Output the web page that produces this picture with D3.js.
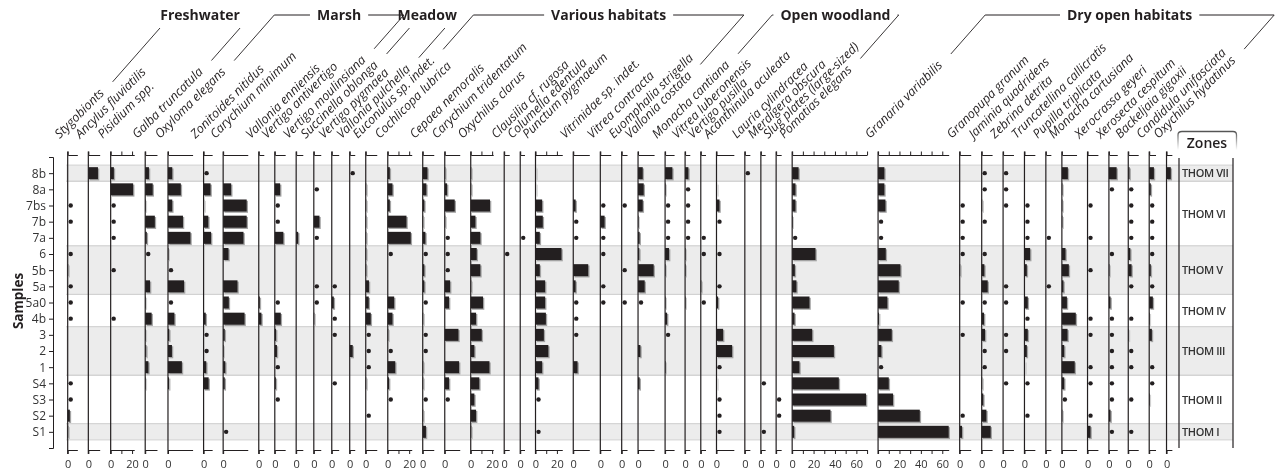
<!DOCTYPE html>
<html><head><meta charset="utf-8">
<script src="https://cdn.jsdelivr.net/npm/d3@7"></script>
<style>
body{margin:0;background:#fff}
svg{will-change:transform}
svg text{font-family:"Open Sans","DejaVu Sans",sans-serif;fill:#231f20}
</style>
</head><body><svg id="c" width="1278" height="473"></svg>
<script>
const P = -1; // presence only (dot)

const samples = ["8b","8a","7bs","7b","7a","6","5b","5a","5a0","4b","3","2","1","S4","S3","S2","S1"];

const taxa = ["Stygobionts","Ancylus fluviatilis","Pisidium spp.","Galba truncatula","Oxyloma elegans",
  "Zonitoides nitidus","Carychium minimum","Vallonia enniensis","Vertigo antivertigo","Vertigo moulinsiana",
  "Succinella oblonga","Vertigo pygmaea","Vallonia pulchella","Euconulus sp. indet.","Cochlicopa lubrica",
  "Cepaea nemoralis","Carychium tridentatum","Oxychilus clarus","Clausilia cf. rugosa","Columella edentula",
  "Punctum pygmaeum","Vitrinidae sp. indet.","Vitrea contracta","Euomphalia strigella","Vallonia costata",
  "Monacha cantiana","Vitrea luberonensis","Vertigo pusilla","Acanthinula aculeata","Lauria cylindracea",
  "Merdigera obscura","Slug plates (large-sized)","Pomatias elegans","Granaria variabilis","Granopupa granum",
  "Jaminia quadridens","Zebrina detrita","Truncatellina callicratis","Pupilla triplicata","Monacha cartusiana",
  "Xerocrassa geyeri","Xerosecta cespitum","Backeljaia gigaxii","Candidula unifasciata","Oxychilus hydatinus"];

const axisMax = [9,10.6,22,11,23,8,23,4.7,9.7,6.2,6.5,6.5,4.7,10.3,22.4,10.3,14,21,4.7,4,25,15,9.7,5,15,
  8.4,4.4,4.4,16.2,4.7,4,4.7,70,66,10.3,9.7,9.7,9.7,4.7,13.7,9.7,7.8,9.3,5.9,5];

const labelledAxes = ["Pisidium spp.","Cochlicopa lubrica","Oxychilus clarus","Punctum pygmaeum","Pomatias elegans","Granaria variabilis"];

const groupNames = ["Freshwater","Marsh","Meadow","Various habitats","Open woodland","Dry open habitats"];
const groupFirst = ["Stygobionts","Oxyloma elegans","Succinella oblonga","Euconulus sp. indet.","Monacha cantiana","Granaria variabilis"];
const groupLast  = ["Galba truncatula","Vertigo moulinsiana","Vallonia pulchella","Vallonia costata","Pomatias elegans","Oxychilus hydatinus"];

const zoneNames = ["THOM VII","THOM VI","THOM V","THOM IV","THOM III","THOM II","THOM I"];
const zoneFirst = ["8b","8a","6","5a0","3","S4","S1"];
const zoneLast  = ["8b","7a","5a","4b","1","S2","S1"];

// one row per taxon, values per sample (8b ... S1), % ; P = present (dot)
const counts = [
  [0,0,P,P,0,P,0.5,P,P,P,0,0,0,P,P,2,0.5],
  [9,0,0,0,0,0,0,0,0,0,0,0,0,0,0,0,0],
  [3,21,P,P,P,0,P,0,0,P,0,0,0,0,0,0,0],
  [3.5,7,0.5,9,1.5,P,0,4.5,0.5,6,0.5,1,3,0.5,0,0,0],
  [4,12,4,14,21,0.5,P,15,P,6,1.2,3.7,13,1,0,0,0],
  [P,6.5,0.5,4.4,7,0,0,0,0,2,P,P,2.5,4.7,0,0,0],
  [0,7.5,22,22,19,5,0,13.4,5.3,20,1.5,0.5,2,1.5,0,0,P],
  [0,0,0,0,0,0,0,0,1,2.5,0,0,0,0,0,0,0],
  [0,5,P,P,8,0,0,0,P,5.6,1.2,2,P,1,P,0,0],
  [0,0,0,0,1.9,0,0,0,0,0,0,0,0,0,0,0,0],
  [0,P,0,5.3,P,0,0,P,P,0.5,0,0,0,0,0,0,0],
  [0,0,0,0,0,0,0,P,1.9,P,P,0,0,P,0,0,0],
  [P,0,0,0,0,0,0,0,0,0,0,2.8,0,0,0,0,0],
  [0,0.5,0.5,0.5,0.5,0.5,0.5,3,2.8,4.7,P,P,P,0.5,0,P,0],
  [1.9,4.4,1.9,17.5,21.5,P,0,0,6,4.4,0.5,P,7,1.2,P,0,0],
  [4.4,3.4,1.5,0.5,2.5,P,1.5,1.5,P,0.5,P,P,0.5,0.5,P,0.5,3],
  [0.5,2.2,9.3,0.5,P,P,P,5,4,0,12.8,0,13.4,4,P,0,0],
  [0.5,0.5,18,4.4,9,5.6,9,0.5,11.5,5,10.3,3.4,17.5,8,3.4,5,0.5],
  [0,0,0,0,0,P,0,0,0,0,0,0,0,0,0,0,0],
  [0,0,0,0,P,0,0,0,0,0,0,0,0,0,0,0,0],
  [0.5,0.5,6.2,6.8,4,24.3,4,9,9,9.7,7.8,12,6.2,2.8,P,0,P],
  [0,0,2.2,P,P,0,14,2.2,P,P,P,0,4,0,0,0,0],
  [0,0,P,4,P,P,0,P,P,0,0,0,0,0,0,0,0],
  [0,0,P,0,0,0,P,0,P,0,0,0,0,0,0,0,0],
  [4.4,5.3,4.4,0.5,1.5,1.2,14.6,6.2,P,0,0,2.2,0,1.5,0,0,0],
  [6.8,0.5,P,P,P,3.7,0.5,0,0.5,1.9,P,0,0.5,0,0,0,0],
  [3.1,P,P,P,P,0.5,0.5,0,0.5,0,0,0,0,0,0,0,0],
  [0,0,0,0,P,P,0,0.5,P,0,0,0,0,0,0,0,0],
  [0,0.5,2.8,P,0,P,0,P,1.5,0,6.2,14.6,P,0.5,P,P,P],
  [P,0,0,0,0,0,0,0,0,0,0,0,0,0,0,0,0],
  [0,0,0,0,0,0,0,0,0,0,0,0,0,P,0,0,P],
  [0,0,0,0,0,0,0,0,0,0,0,0,0,0,P,P,0],
  [6,3.1,3.1,0.5,P,21.8,2.5,4,16.2,2.2,18.7,39,6.8,43.6,69,35.8,1.9],
  [5.9,5.9,6.9,P,P,7.2,20.9,19.3,8.7,0.9,12.8,3.1,P,10,14,39,66],
  [0,0,P,P,P,P,0.5,0,P,0,P,0,0,0,0,P,2.2],
  [P,P,0.5,P,0,P,2.5,5.6,P,2.2,3.1,P,P,0.5,1.5,4.4,8.4],
  [P,P,P,0,0,0,0,P,P,0,P,P,0,P,0,0,0],
  [0,0,P,P,P,5.3,2.2,0,3.1,P,3.1,2.2,0.5,P,0,P,0],
  [0,0,0,0,P,0,0,P,0,0,0,0,0,0,0,0,0],
  [5.6,0.5,0.5,0.5,0,3.4,6.5,1.5,4.7,13,5.3,2.2,12,2.2,P,0.5,0],
  [0,0,P,0,P,0,P,0,0,P,P,0,P,P,0,P,2.8],
  [7.2,P,0,0,0,P,0.5,0,1.5,P,P,P,P,P,P,1.5,P],
  [1.2,P,P,P,P,1.9,3.1,P,0,P,0.5,P,P,0,P,0,P],
  [4.4,1.5,P,P,P,P,1.5,P,3.4,0.5,2.5,0,P,P,0.5,0,0],
  [4,0,0,0,0,0,0,0,0,0,0,0,0,0,0,0,0]
];

// ---------- layout ----------
const INK = "#231f20";
const svg = d3.select("#c");
const pxPerUnit = 1.07, colGap = 11, firstX = 67.7;
const yTop = 157, yBot = 448, axTopY = 155, axBotY = 450;
const zoneL = 1179, zoneR = 1233;

// column baselines from cumulative axis widths
const starts = [];
axisMax.reduce((acc, m, i) => { starts[i] = acc; return acc + m * pxPerUnit + colGap; }, firstX);
const xs = taxa.map((t, i) => d3.scaleLinear().domain([0, axisMax[i]]).range([starts[i], starts[i] + axisMax[i] * pxPerUnit]));

const y = d3.scalePoint().domain(samples).range([yTop, yBot]).padding(1);
const step = y.step();

// zone bands
const bandG = svg.append("g");
zoneNames.forEach((z, i) => {
  const y0 = y(zoneFirst[i]) - step / 2, y1 = y(zoneLast[i]) + step / 2;
  if (i % 2 === 0) bandG.append("rect").attr("x", firstX - 1.5).attr("width", zoneR - firstX + 1.5)
    .attr("y", y0).attr("height", y1 - y0).attr("fill", "#ececec");
  [y0, y1].forEach(yy => bandG.append("line").attr("x1", firstX - 1.5).attr("x2", zoneR)
    .attr("y1", yy).attr("y2", yy).attr("stroke", "#d2d2d2").attr("stroke-width", 1));
  svg.append("text").attr("x", zoneL + 3).attr("y", (y0 + y1) / 2 + 4)
    .attr("font-size", 11).attr("font-weight", 600).attr("letter-spacing", -0.4)
    .style("fill", "#333").text(z);
});

// y axis
const yAx = svg.append("g").attr("transform", "translate(53,0)")
  .call(d3.axisLeft(y).tickSize(4).tickSizeOuter(4).tickPadding(3));
yAx.selectAll("path,line").attr("stroke", INK);
yAx.selectAll("text").attr("font-size", 12).style("fill", "#333").attr("font-family", "Open Sans");
svg.append("text").attr("transform", "translate(23,301) rotate(-90)").attr("text-anchor", "middle")
  .attr("font-size", 13.5).attr("font-weight", 700).text("Samples");

// columns
const colG = svg.append("g");
taxa.forEach((t, i) => {
  const sx = xs[i], b = sx(0);
  const lab = labelledAxes.includes(t);
  const tv = lab ? d3.range(0, axisMax[i] + 0.01, 10) : [0];
  const g = colG.append("g");
  const top = g.append("g").attr("transform", `translate(0,${axTopY})`)
    .call(d3.axisTop(sx).tickValues(tv).tickSize(3.5).tickSizeOuter(0).tickFormat(""));
  const bot = g.append("g").attr("transform", `translate(0,${axBotY})`)
    .call(d3.axisBottom(sx).tickValues(tv).tickSize(4).tickSizeOuter(0).tickPadding(6)
      .tickFormat(d => d % 20 === 0 ? d : ""));
  [top, bot].forEach(a => { a.selectAll("path,line").attr("stroke", INK).attr("stroke-width", 1); });
  bot.selectAll("text").attr("font-size", 11).attr("fill", "#333").style("fill", "#333").attr("font-family", "Open Sans");
  g.append("line").attr("x1", b).attr("x2", b).attr("y1", axTopY - 3.5).attr("y2", axBotY + 4)
    .attr("stroke", INK).attr("stroke-width", 1.2);

  counts[i].forEach((v, j) => {
    if (v === 0) return;
    const cy = y(samples[j]);
    if (v === P) {
      g.append("circle").attr("cx", b + 3).attr("cy", cy).attr("r", 2.2).attr("fill", INK);
    } else {
      const w = sx(v) - b;
      g.append("rect").attr("x", b + 1.3).attr("y", cy - 6 + 1.3).attr("width", w).attr("height", 12).attr("fill", "#a3a3a3");
      g.append("rect").attr("x", b).attr("y", cy - 6).attr("width", w).attr("height", 12).attr("fill", INK);
    }
  });
});

// species labels
const labG = svg.append("g");
const lblOrigin = i => [starts[i] - 8, 139];
const lblLen = [];
taxa.forEach((t, i) => {
  const [ox, oy] = lblOrigin(i);
  const tx = labG.append("text").attr("transform", `translate(${ox},${oy}) rotate(-45)`)
    .attr("font-size", 12.5).attr("font-style", "italic").text(t);
  lblLen[i] = tx.node().getComputedTextLength();
});

// group headers with connector lines
const u = Math.SQRT1_2, slope = 0.88;
const hdr = svg.append("g");
groupNames.forEach((gname, gi) => {
  const ends = [groupFirst[gi], groupLast[gi]].map(n => {
    const i = taxa.indexOf(n); const [ox, oy] = lblOrigin(i); const a = lblLen[i] + 14, bb = 3;
    return [ox + u * (a - bb), oy - u * (a + bb)];
  });
  const txt = hdr.append("text").attr("font-size", 14).attr("font-weight", 700).attr("text-anchor", "middle").text(gname);
  const W = txt.node().getComputedTextLength();
  let topY = 15;
  let tops = ends.map(([x, yy]) => x + (yy - topY) * slope);
  const joined = tops[1] - tops[0] >= W + 4;
  if (!joined) { topY = 28; tops = ends.map(([x, yy]) => x + (yy - topY) * slope); }
  const cx = (tops[0] + tops[1]) / 2;
  txt.attr("x", cx).attr("y", 20);
  ends.forEach(([x, yy], k) => hdr.append("line").attr("x1", x).attr("y1", yy).attr("x2", tops[k]).attr("y2", topY)
    .attr("stroke", INK).attr("stroke-width", 0.9));
  if (joined) {
    const l1 = cx - W / 2 - 7, r1 = cx + W / 2 + 7;
    if (l1 > tops[0]) hdr.append("line").attr("x1", tops[0]).attr("x2", l1).attr("y1", topY).attr("y2", topY).attr("stroke", INK).attr("stroke-width", 1);
    if (r1 < tops[1]) hdr.append("line").attr("x1", r1).attr("x2", tops[1]).attr("y1", topY).attr("y2", topY).attr("stroke", INK).attr("stroke-width", 1);
  }
});

// zones column
const zg = svg.append("g");
[zoneL, zoneR].forEach(x => zg.append("line").attr("x1", x).attr("x2", x).attr("y1", 158).attr("y2", yBot)
  .attr("stroke", INK).attr("stroke-width", 1.2));
const grad = svg.append("defs").append("linearGradient").attr("id", "tabg").attr("x1", 0).attr("x2", 0).attr("y1", 0).attr("y2", 1);
grad.append("stop").attr("offset", "0%").attr("stop-color", "#555");
grad.append("stop").attr("offset", "100%").attr("stop-color", "#fff");
zg.append("path").attr("d", `M${zoneL - 1},150 V135 Q${zoneL - 1},131.5 ${zoneL + 3},131.5 H${zoneR} Q${zoneR + 3.5},131.5 ${zoneR + 3.5},135 V150`)
  .attr("fill", "none").attr("stroke", "url(#tabg)").attr("stroke-width", 1.3);
zg.append("text").attr("x", (zoneL + zoneR) / 2 + 1).attr("y", 148).attr("text-anchor", "middle")
  .attr("font-size", 14).attr("font-weight", 600).text("Zones");
</script>
</body></html>
